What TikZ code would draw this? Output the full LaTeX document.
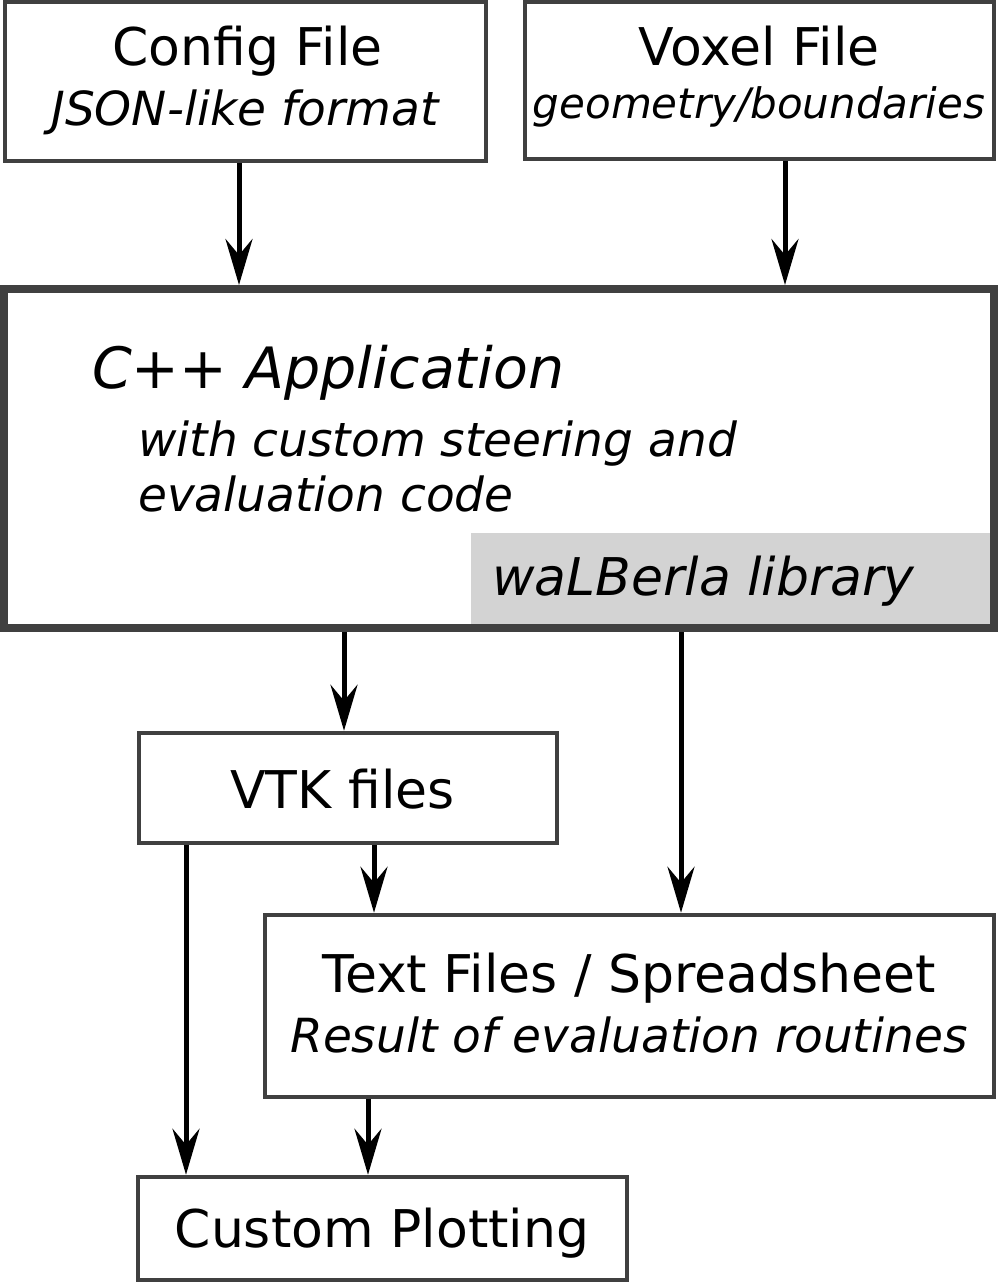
\documentclass[tikz,border=0pt]{standalone}
\usepackage{fontspec}
\setmainfont{DejaVu Sans}
\usetikzlibrary{arrows.meta}
\definecolor{boxline}{HTML}{404040}
\definecolor{libgray}{HTML}{D3D3D3}
\tikzset{
  box/.style={draw=boxline, line width=4.5pt, fill=white, rectangle, inner sep=0pt},
  bigbox/.style={draw=boxline, line width=8pt, fill=white, rectangle, inner sep=0pt},
  libbox/.style={fill=libgray, rectangle, inner sep=0pt},
  arr/.style={line width=5pt, black, -{Stealth[length=46pt,width=27pt,inset=16pt]}},
  ttl/.style={anchor=base, inner sep=0pt, font=\fontsize{52}{62}\selectfont},
  sub/.style={anchor=base, inner sep=0pt, font=\fontsize{47}{56}\selectfont\itshape},
}
\begin{document}
\begin{tikzpicture}[x=1pt,y=-1pt]
\useasboundingbox (0,0) rectangle (998,1283);
% boxes
\node[box, minimum width=481pt, minimum height=159pt] (cfg) at (245.5,81.5) {};
\node[box, minimum width=469pt, minimum height=157pt] (vox) at (759.5,80.5) {};
\node[bigbox, minimum width=990pt, minimum height=339pt] (app) at (499,458.5) {};
\node[libbox, minimum width=519pt, minimum height=91pt] (lib) at (730.5,578.5) {};
\node[box, minimum width=418pt, minimum height=110pt] (vtk) at (348,788) {};
\node[box, minimum width=729pt, minimum height=182pt] (txt) at (629.5,1006) {};
\node[box, minimum width=489pt, minimum height=103pt] (plot) at (382.5,1228.5) {};
% texts
\node[ttl] (cfgT) at (247.5,65) {Config File};
\node[sub] (cfgS) at (245,125) {JSON-like format};
\node[ttl] (voxT) at (759,65) {Voxel File};
\node[anchor=base, inner sep=0pt, font=\fontsize{42}{50}\selectfont\itshape] (voxS) at (759,118) {geometry/boundaries};
\node[anchor=base west, inner sep=0pt, font=\fontsize{57}{68}\selectfont\itshape] (appT) at (92,388) {C++ Application};
\node[sub, anchor=base west] (appS1) at (138,456) {with custom steering and};
\node[sub, anchor=base west] (appS2) at (138,511) {evaluation code};
\node[anchor=base west, inner sep=0pt, font=\fontsize{52}{62}\selectfont\itshape] (libT) at (492,595) {waLBerla library};
\node[ttl] (vtkT) at (342.5,808) {VTK files};
\node[ttl] (txtT) at (629,992) {Text Files / Spreadsheet};
\node[sub] (txtS) at (629,1052) {Result of evaluation routines};
\node[ttl] (plotT) at (382,1247) {Custom Plotting};
% connectors
\draw[arr] ([xshift=-6.5pt]cfg.south) -- ([xshift=-6.5pt]cfg.south |- app.north);
\draw[arr] ([xshift=25.5pt]vox.south) -- ([xshift=25.5pt]vox.south |- app.north);
\draw[arr] ([xshift=-155pt]app.south) -- ([xshift=-155pt]app.south |- vtk.north);
\draw[arr] ([xshift=182pt]app.south) -- ([xshift=182pt]app.south |- txt.north);
\draw[arr] ([xshift=26pt]vtk.south) -- ([xshift=26pt]vtk.south |- txt.north);
\draw[arr] ([xshift=-162pt]vtk.south) -- ([xshift=-162pt]vtk.south |- plot.north);
\draw[arr] ([xshift=-261.5pt]txt.south) -- ([xshift=-261.5pt]txt.south |- plot.north);
\end{tikzpicture}
\end{document}
